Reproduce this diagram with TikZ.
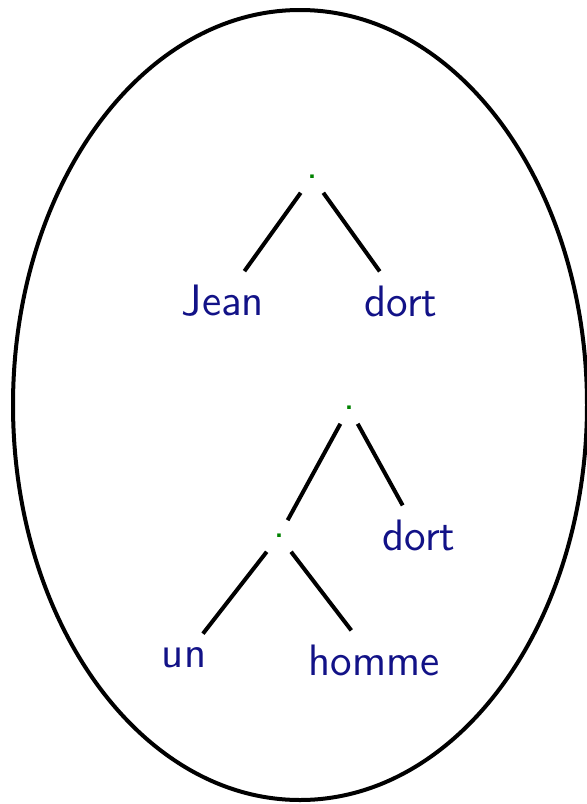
\documentclass[tikz,border=0pt]{standalone}
\usepackage{tikz}
\definecolor{wordblue}{RGB}{18,18,135}
\definecolor{dotgreen}{RGB}{0,130,0}
\tikzset{
  word/.style={text=wordblue, font=\sffamily\fontsize{11}{13}\selectfont},
  knot/.style={text=dotgreen, font=\sffamily\fontsize{11}{13}\selectfont, inner sep=3.3pt},
  branch/.style={line width=1pt}
}
\begin{document}
\begin{tikzpicture}[x=0.25pt, y=-0.25pt]
  \useasboundingbox (0,0) rectangle (587,804);
  % outer ellipse
  \draw[line width=1pt] (300,405) ellipse (287 and 395);

  % first tree
  \node[knot] (root1) at (312,177) {.};
  \node[word] (jean) at (223,301) {Jean};
  \node[word] (dort1) at (401,301) {dort};

  % second tree
  \node[knot] (root2) at (349,408) {.};
  \node[knot] (np) at (279,536) {.};
  \node[word] (dort2) at (419,535) {dort};
  \node[word] (un) at (184,658) {un};
  \node[word] (homme) at (374,660) {homme};

  % branches
  \draw[branch] (root1) -- (jean);
  \draw[branch] (root1) -- (dort1);
  \draw[branch] (root2) -- (np);
  \draw[branch] (root2) -- (dort2);
  \draw[branch] (np) -- (un);
  \draw[branch] (np) -- (homme);
\end{tikzpicture}
\end{document}
